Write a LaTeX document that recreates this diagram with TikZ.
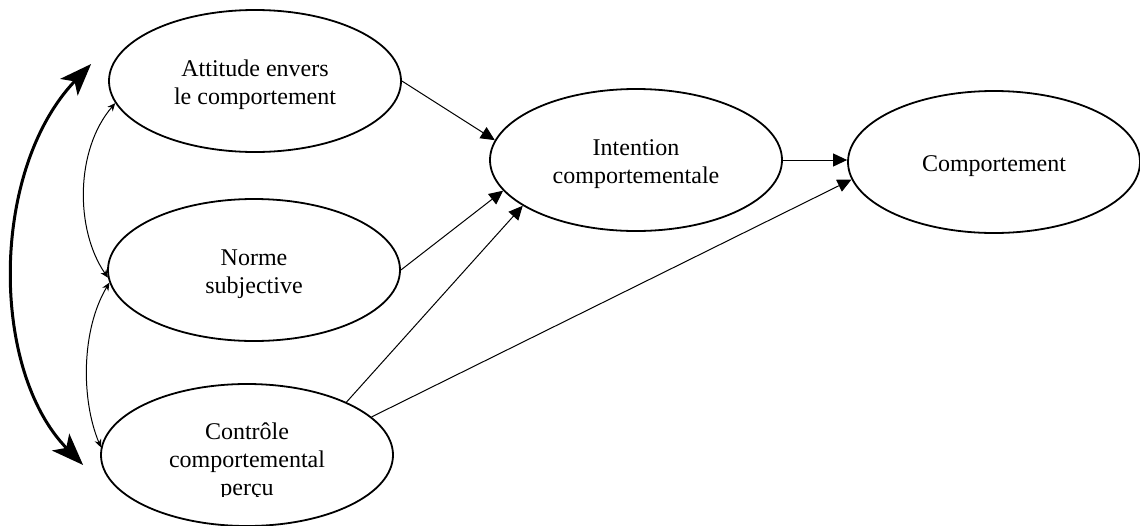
\documentclass[tikz,border=0pt]{standalone}
\usepackage{fontspec}
\setmainfont{Liberation Serif}
\usetikzlibrary{shapes.geometric,arrows.meta,calc}
\begin{document}
\begin{tikzpicture}[x=0.5pt,y=-0.5pt,
  ell/.style={draw,ellipse,line width=0.9pt,inner sep=0pt,minimum width=146pt,minimum height=71pt},
  lbl/.style={font=\fontsize{12}{14}\selectfont,align=center,inner sep=0pt,yshift=-2pt},
  conn/.style={line width=0.5pt,-{Triangle[length=7pt,width=6.5pt]}},
  dblarr/.style={line width=0.5pt,{Stealth[length=4pt,width=3.5pt]}-{Stealth[length=4pt,width=3.5pt]}},
  bigarr/.style={line width=1.5pt,{Stealth[length=16pt,width=12pt,inset=4pt]}-{Stealth[length=16pt,width=12pt,inset=4pt]}}]
\useasboundingbox (0,0) rectangle (1140,525);
\node[ell] (att) at (255,81) {};
\node[ell] (nor) at (254,270) {};
\node[ell] (con) at (247,455) {};
\node[ell] (int) at (636,160) {};
\node[ell] (comp) at (994,162) {};
\node[lbl] (attL) at (att.center) {Attitude envers\\le comportement};
\node[lbl] (norL) at (nor.center) {Norme\\subjective};
\node[lbl] (intL) at (int.center) {Intention\\comportementale};
\node[lbl] (compL) at (comp.center) {Comportement};
\begin{scope}
\clip (0,0) rectangle (1140,496);
\node[lbl] (conL) at ($(con.center)+(0,3)$) {Contrôle\\comportemental\\perçu};
\end{scope}
% straight connectors
\draw[conn] (att.east) -- (int.172);
\draw[conn] (nor.east) -- (int.193);
\draw[conn] (con.28) -- (int.202);
\draw[conn] (con.17) -- (comp.187);
\draw[conn] (int.east) -- (int.east -| comp.west);
% left curved arrows
\draw[dblarr] (att.189) .. controls (75,150) and (75,230) .. (nor.183);
\draw[dblarr] (nor.185) .. controls (81,330) and (81,400) .. (con.177);
\coordinate (ttop) at ($(att.west)+(-17,-17)$);
\coordinate (tbot) at ($(con.west)+(-17,10)$);
\draw[bigarr] (ttop) .. controls (-10,170) and (-10,370) .. (tbot);
\end{tikzpicture}
\end{document}
